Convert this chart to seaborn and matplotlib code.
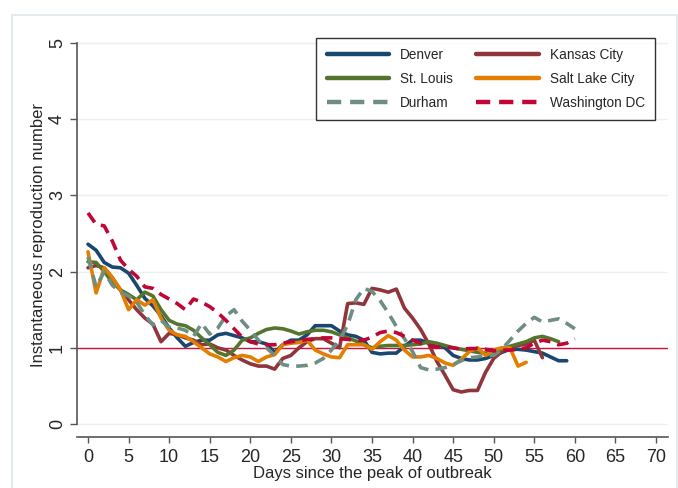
import numpy as np
import pandas as pd
import seaborn as sns
import matplotlib.pyplot as plt
from matplotlib.lines import Line2D
from matplotlib.patches import Rectangle

# Valores (R instantâneo por dia desde o pico)
denver = [2.36, 2.28, 2.12, 2.06, 2.05, 1.98, 1.82, 1.65, 1.55, 1.42,
          1.26, 1.13, 1.02, 1.07, 1.10, 1.10, 1.17, 1.19, 1.16, 1.13,
          1.08, 1.08, 1.05, 0.94, 1.04, 1.10, 1.10, 1.17, 1.29, 1.29,
          1.29, 1.22, 1.17, 1.15, 1.10, 0.94, 0.92, 0.93, 0.93, 1.02,
          1.10, 1.10, 1.06, 1.05, 1.00, 0.90, 0.86, 0.84, 0.84, 0.86,
          0.90, 0.94, 0.98, 0.98, 0.97, 0.95, 0.93, 0.88, 0.83, 0.83]
kansas = [2.05, 2.08, 2.05, 1.92, 1.76, 1.63, 1.50, 1.39, 1.31, 1.08,
          1.19, 1.17, 1.13, 1.10, 1.04, 1.05, 1.00, 0.97, 0.90, 0.84,
          0.79, 0.76, 0.76, 0.72, 0.86, 0.90, 1.00, 1.08, 1.12, 1.12,
          1.06, 1.00, 1.58, 1.59, 1.57, 1.78, 1.76, 1.73, 1.77, 1.52,
          1.39, 1.24, 1.05, 0.82, 0.64, 0.45, 0.42, 0.44, 0.44, 0.68,
          0.86, 0.95, 1.00, 1.03, 1.05, 1.10, 0.87]
stlouis = [2.13, 2.12, 2.00, 1.86, 1.76, 1.70, 1.63, 1.73, 1.68, 1.50,
           1.36, 1.31, 1.29, 1.23, 1.13, 1.04, 0.94, 0.90, 0.97, 1.10,
           1.13, 1.19, 1.24, 1.26, 1.25, 1.22, 1.18, 1.21, 1.23, 1.23,
           1.21, 1.17, 1.13, 1.09, 1.04, 1.00, 1.02, 1.03, 1.03, 1.03,
           1.04, 1.05, 1.08, 1.06, 1.03, 1.00, 0.98, 0.96, 0.94, 0.93,
           0.95, 0.98, 1.02, 1.05, 1.08, 1.13, 1.15, 1.12, 1.08]
saltlake = [2.26, 1.72, 2.05, 1.92, 1.76, 1.50, 1.63, 1.56, 1.63, 1.39,
            1.23, 1.17, 1.15, 1.08, 1.00, 0.92, 0.88, 0.82, 0.87, 0.90,
            0.88, 0.82, 0.88, 0.91, 1.04, 1.06, 1.07, 1.10, 0.97, 0.92,
            0.88, 0.87, 1.04, 1.04, 1.04, 0.98, 1.08, 1.16, 1.10, 0.97,
            0.88, 0.88, 0.90, 0.86, 0.80, 0.77, 0.85, 0.95, 1.00, 0.90,
            0.97, 1.00, 1.00, 0.76, 0.81]
durham = [2.19, 1.80, 2.00, 1.82, 1.73, 1.68, 1.60, 1.43, 1.30, 1.36,
          1.27, 1.26, 1.23, 1.15, 1.32, 1.18, 1.26, 1.42, 1.50, 1.35,
          1.23, 1.10, 1.00, 0.90, 0.78, 0.76, 0.76, 0.77, 0.80, 0.86,
          0.97, 1.10, 1.30, 1.63, 1.78, 1.74, 1.62, 1.46, 1.28, 1.12,
          0.95, 0.74, 0.71, 0.72, 0.74, 0.78, 0.83, 0.87, 0.88, 0.90,
          0.90, 0.98, 1.10, 1.22, 1.32, 1.40, 1.34, 1.36, 1.38, 1.32,
          1.25]
washington = [2.77, 2.62, 2.60, 2.40, 2.15, 2.03, 1.94, 1.80, 1.78, 1.70,
              1.64, 1.58, 1.50, 1.64, 1.60, 1.54, 1.46, 1.36, 1.25, 1.14,
              1.08, 1.05, 1.04, 1.04, 1.06, 1.08, 1.09, 1.11, 1.12, 1.13,
              1.13, 1.12, 1.11, 1.10, 1.10, 1.14, 1.20, 1.22, 1.20, 1.15,
              1.10, 1.06, 1.03, 1.01, 1.01, 1.00, 0.98, 0.99, 0.99, 0.98,
              0.96, 0.97, 0.97, 0.98, 1.00, 1.06, 1.10, 1.08, 1.04, 1.06,
              1.12]

cidades = {"Denver": denver, "Kansas City": kansas, "St. Louis": stlouis,
           "Salt Lake City": saltlake, "Durham": durham,
           "Washington DC": washington}
cores = {"Denver": "#1a476f", "Kansas City": "#90353b", "St. Louis": "#55752f",
         "Salt Lake City": "#e37e00", "Durham": "#6e8e84",
         "Washington DC": "#c10534"}
tracos = {"Denver": "", "Kansas City": "", "St. Louis": "",
          "Salt Lake City": "", "Durham": (3.2, 2.0), "Washington DC": (3.2, 2.0)}

df = pd.concat([pd.DataFrame({"dia": np.arange(len(v)), "R": v, "cidade": k})
                for k, v in cidades.items()], ignore_index=True)

sns.set_style("white")
plt.rcParams['font.family'] = ['Liberation Sans', 'DejaVu Sans']

fig = plt.figure(figsize=(6.78, 4.88), dpi=100)
ax = fig.add_axes([77/678, 1 - 430/488, 591/678, 390/488])

# moldura clara da região do gráfico (estilo Stata)
fig.patches.append(Rectangle((12/678, -0.1), 665/678, 1 - 15/488 + 0.1,
                             transform=fig.transFigure, fill=False,
                             edgecolor="#dfe7eb", lw=1.2, zorder=0))

for y in range(6):
    ax.axhline(y, color="#eaf0f3", lw=1.0, zorder=0)
ax.axhline(1, color="#d0103a", lw=1.0, zorder=1)

sns.lineplot(data=df, x="dia", y="R", hue="cidade", style="cidade",
             palette=cores, dashes=tracos, linewidth=2.6, legend=False,
             ax=ax, zorder=3)

ax.set_xlim(-1.356, 71.48)
ax.set_ylim(-0.079, 5.04)
ax.set_xticks(range(0, 71, 5))
ax.set_yticks(range(0, 6))
ax.tick_params(axis="x", labelsize=13, length=4.5, width=1, pad=4,
               color="#555555", direction="out", bottom=True)
ax.tick_params(axis="y", labelsize=13, length=5, width=1, pad=3,
               color="#555555", direction="out", left=True)
plt.setp(ax.get_yticklabels(), rotation=90, va="center")
ax.set_xlabel("Days since the peak of outbreak", fontsize=12, labelpad=0)
ax.set_ylabel("Instantaneous reproduction number", fontsize=12, labelpad=2)

for s in ["top", "right"]:
    ax.spines[s].set_visible(False)
ax.spines["left"].set_bounds(0, 5)
ax.spines["bottom"].set_position(("outward", 5))
for s in ["left", "bottom"]:
    ax.spines[s].set_color("#555555")
    ax.spines[s].set_linewidth(1.2)

ordem = ["Denver", "St. Louis", "Durham", "Kansas City", "Salt Lake City",
         "Washington DC"]
handles = []
for c in ordem:
    ls = (0, tracos[c]) if tracos[c] else "-"
    handles.append(Line2D([], [], color=cores[c], lw=3.2, linestyle=ls))
leg = ax.legend(handles, ordem, ncol=2, loc="upper right",
                bbox_to_anchor=(655/678, 1 - 38/488),
                bbox_transform=fig.transFigure, fontsize=9.8,
                frameon=True, fancybox=False, edgecolor="black",
                handlelength=4.6, handletextpad=0.8, columnspacing=1.7,
                labelspacing=0.72, borderaxespad=0, borderpad=0.75)
leg.get_frame().set_linewidth(1.0)

fig.savefig("out.png", dpi=100)
